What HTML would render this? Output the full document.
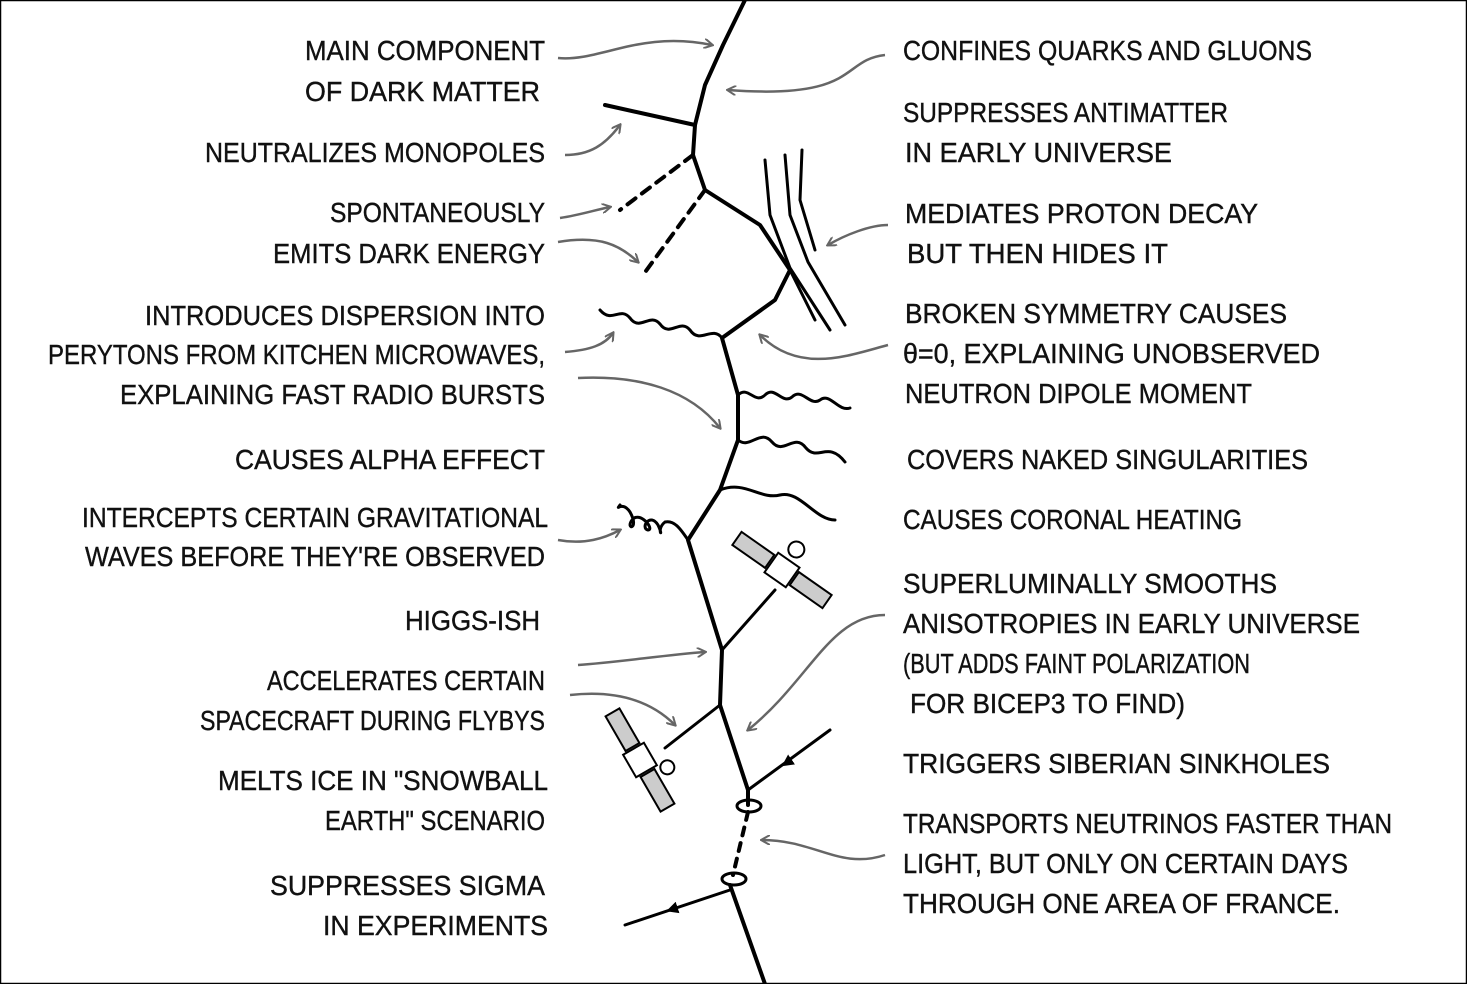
<!DOCTYPE html>
<html><head><meta charset="utf-8"><style>
html,body{margin:0;padding:0;background:#fff}
svg{display:block}
text{font-family:"Liberation Sans","DejaVu Sans",sans-serif;font-size:28px;fill:#111;stroke:#111;stroke-width:0.4}
.l{text-anchor:end}
</style></head><body>
<svg width="1467" height="984" viewBox="0 0 1467 984">
<defs>
<marker id="ah" markerWidth="10" markerHeight="10" refX="8" refY="5" orient="auto" markerUnits="userSpaceOnUse"><path d="M0,0 L9,5 L0,10" fill="none" stroke="#666" stroke-width="2"/></marker>
<marker id="bh" markerWidth="16" markerHeight="16" refX="8" refY="8" orient="auto" markerUnits="userSpaceOnUse"><path d="M0,2 L12,8 L0,14 Z" fill="#000"/></marker>
</defs>
<rect x="0.5" y="0.5" width="1466" height="983" fill="#fff" stroke="#000" stroke-width="1.5"/>
<g fill="none" stroke="#000" stroke-width="4" stroke-linejoin="round" stroke-linecap="round">
<path d="M745,0 L723,45 L705,85 L695,125 L693,155 L705,190 L760,225 L790,270 L775,300 L722,338 L738,395 L738,440 L720,490 L688,540 L722,650 L720,705 L748,790 L748,805"/>
<path d="M748,812 L733,875" stroke-dasharray="8,8"/>
<path d="M730,885 L765,984"/>
<path d="M695,125 L605,105"/>
<path d="M693,155 L620,210" stroke-dasharray="10,8"/>
<path d="M705,190 L643,275" stroke-dasharray="10,8"/>
<path d="M765,160 L770,215 L790,268 L830,330" stroke-width="3"/>
<path d="M785,155 L790,215 L808,262 L845,325" stroke-width="3"/>
<path d="M802,150 L800,200 L815,250" stroke-width="3"/>
<path d="M790,270 L815,320" stroke-width="3"/>
<path d="M722,338 C712,325 700,345 690,330 C680,318 670,338 660,324 C650,312 640,332 630,318 C620,306 612,324 600,310" stroke-width="3"/>
<path d="M738,395 C748,385 755,405 765,395 C775,385 782,405 792,397 C802,387 810,407 820,400 C830,392 838,412 850,408" stroke-width="3"/>
<path d="M738,440 C750,450 760,428 772,442 C784,456 794,432 806,448 C818,462 828,440 845,462" stroke-width="3"/>
<path d="M720,490 C745,480 760,500 780,495 C800,490 815,520 835,520" stroke-width="3"/>
<path d="M688,540 C680,528 674,520 665,522 C655,530 665,540 658,525 C650,512 640,528 648,530 C655,530 640,510 632,520 C625,530 640,530 630,512 C622,500 615,512 620,505" stroke-width="3"/>
<path d="M722,650 L775,590" stroke-width="3"/>
<path d="M720,705 L665,748" stroke-width="3"/>
<path d="M748,790 L830,730" stroke-width="3"/>
<path d="M795,757 L785,764" stroke="none" marker-end="url(#bh)"/>
<path d="M730,890 L625,925" stroke-width="3"/>
<path d="M685,905 L670,910" stroke="none" marker-end="url(#bh)"/>
<ellipse cx="749" cy="806" rx="12" ry="6" stroke-width="3"/>
<ellipse cx="734" cy="879" rx="12" ry="6" stroke-width="3"/>
</g>
<g transform="translate(782,570) rotate(35)" stroke="#000" stroke-width="2" fill="#fff">
<rect x="-55" y="-8" width="40" height="16" fill="#ccc"/><rect x="15" y="-8" width="40" height="16" fill="#ccc"/>
<rect x="-13" y="-12" width="26" height="24"/><circle cx="0" cy="-25" r="8"/>
</g>
<g transform="translate(640,760) rotate(60)" stroke="#000" stroke-width="2" fill="#fff">
<rect x="-55" y="-8" width="40" height="16" fill="#ccc"/><rect x="15" y="-8" width="40" height="16" fill="#ccc"/>
<rect x="-13" y="-12" width="26" height="24"/><circle cx="20" cy="-20" r="7"/>
</g>
<g fill="none" stroke="#666" stroke-width="2.5" marker-end="url(#ah)">
<path d="M558,58 C600,62 640,30 712,45"/>
<path d="M885,55 C840,60 860,100 728,90"/>
<path d="M565,155 C590,155 605,145 620,125"/>
<path d="M560,218 C580,215 595,210 610,207"/>
<path d="M558,242 C600,235 620,245 638,262"/>
<path d="M888,225 C870,225 845,235 828,245"/>
<path d="M565,352 C590,350 605,345 613,333"/>
<path d="M578,378 C640,375 690,390 720,428"/>
<path d="M888,345 C850,355 800,375 760,335"/>
<path d="M558,540 C585,545 605,538 620,530"/>
<path d="M578,665 C620,662 665,655 705,652"/>
<path d="M570,695 C615,690 650,700 675,725"/>
<path d="M885,615 C830,615 810,680 748,730"/>
<path d="M885,855 C840,870 815,840 762,840"/>
</g>
<g lengthAdjust="spacingAndGlyphs">
<text class="l" x="545" y="60" textLength="240" lengthAdjust="spacingAndGlyphs">MAIN COMPONENT</text>
<text class="l" x="540" y="101" textLength="235" lengthAdjust="spacingAndGlyphs">OF DARK MATTER</text>
<text class="l" x="545" y="162" textLength="340" lengthAdjust="spacingAndGlyphs">NEUTRALIZES MONOPOLES</text>
<text class="l" x="545" y="222" textLength="215" lengthAdjust="spacingAndGlyphs">SPONTANEOUSLY</text>
<text class="l" x="545" y="263" textLength="272" lengthAdjust="spacingAndGlyphs">EMITS DARK ENERGY</text>
<text class="l" x="545" y="325" textLength="400" lengthAdjust="spacingAndGlyphs">INTRODUCES DISPERSION INTO</text>
<text class="l" x="545" y="364" textLength="497" lengthAdjust="spacingAndGlyphs">PERYTONS FROM KITCHEN MICROWAVES,</text>
<text class="l" x="545" y="404" textLength="425" lengthAdjust="spacingAndGlyphs">EXPLAINING FAST RADIO BURSTS</text>
<text class="l" x="545" y="469" textLength="310" lengthAdjust="spacingAndGlyphs">CAUSES ALPHA EFFECT</text>
<text class="l" x="548" y="527" textLength="466" lengthAdjust="spacingAndGlyphs">INTERCEPTS CERTAIN GRAVITATIONAL</text>
<text class="l" x="545" y="566" textLength="460" lengthAdjust="spacingAndGlyphs">WAVES BEFORE THEY'RE OBSERVED</text>
<text class="l" x="540" y="630" textLength="135" lengthAdjust="spacingAndGlyphs">HIGGS-ISH</text>
<text class="l" x="545" y="690" textLength="278" lengthAdjust="spacingAndGlyphs">ACCELERATES CERTAIN</text>
<text class="l" x="545" y="730" textLength="345" lengthAdjust="spacingAndGlyphs">SPACECRAFT DURING FLYBYS</text>
<text class="l" x="548" y="790" textLength="330" lengthAdjust="spacingAndGlyphs">MELTS ICE IN "SNOWBALL</text>
<text class="l" x="545" y="830" textLength="220" lengthAdjust="spacingAndGlyphs">EARTH" SCENARIO</text>
<text class="l" x="545" y="895" textLength="275" lengthAdjust="spacingAndGlyphs">SUPPRESSES SIGMA</text>
<text class="l" x="548" y="935" textLength="225" lengthAdjust="spacingAndGlyphs">IN EXPERIMENTS</text>
</g>
<g>
<text x="903" y="60" textLength="409" lengthAdjust="spacingAndGlyphs">CONFINES QUARKS AND GLUONS</text>
<text x="903" y="122" textLength="325" lengthAdjust="spacingAndGlyphs">SUPPRESSES ANTIMATTER</text>
<text x="905" y="162" textLength="267" lengthAdjust="spacingAndGlyphs">IN EARLY UNIVERSE</text>
<text x="905" y="223" textLength="353" lengthAdjust="spacingAndGlyphs">MEDIATES PROTON DECAY</text>
<text x="907" y="263" textLength="261" lengthAdjust="spacingAndGlyphs">BUT THEN HIDES IT</text>
<text x="905" y="323" textLength="382" lengthAdjust="spacingAndGlyphs">BROKEN SYMMETRY CAUSES</text>
<text x="903" y="363" textLength="417" lengthAdjust="spacingAndGlyphs">θ=0, EXPLAINING UNOBSERVED</text>
<text x="905" y="403" textLength="347" lengthAdjust="spacingAndGlyphs">NEUTRON DIPOLE MOMENT</text>
<text x="907" y="469" textLength="401" lengthAdjust="spacingAndGlyphs">COVERS NAKED SINGULARITIES</text>
<text x="903" y="529" textLength="339" lengthAdjust="spacingAndGlyphs">CAUSES CORONAL HEATING</text>
<text x="903" y="593" textLength="374" lengthAdjust="spacingAndGlyphs">SUPERLUMINALLY SMOOTHS</text>
<text x="903" y="633" textLength="457" lengthAdjust="spacingAndGlyphs">ANISOTROPIES IN EARLY UNIVERSE</text>
<text x="903" y="673" textLength="347" lengthAdjust="spacingAndGlyphs">(BUT ADDS FAINT POLARIZATION</text>
<text x="910" y="713" textLength="275" lengthAdjust="spacingAndGlyphs">FOR BICEP3 TO FIND)</text>
<text x="903" y="773" textLength="427" lengthAdjust="spacingAndGlyphs">TRIGGERS SIBERIAN SINKHOLES</text>
<text x="903" y="833" textLength="489" lengthAdjust="spacingAndGlyphs">TRANSPORTS NEUTRINOS FASTER THAN</text>
<text x="903" y="873" textLength="445" lengthAdjust="spacingAndGlyphs">LIGHT, BUT ONLY ON CERTAIN DAYS</text>
<text x="903" y="913" textLength="437" lengthAdjust="spacingAndGlyphs">THROUGH ONE AREA OF FRANCE.</text>
</g>
</svg>
</body></html>
